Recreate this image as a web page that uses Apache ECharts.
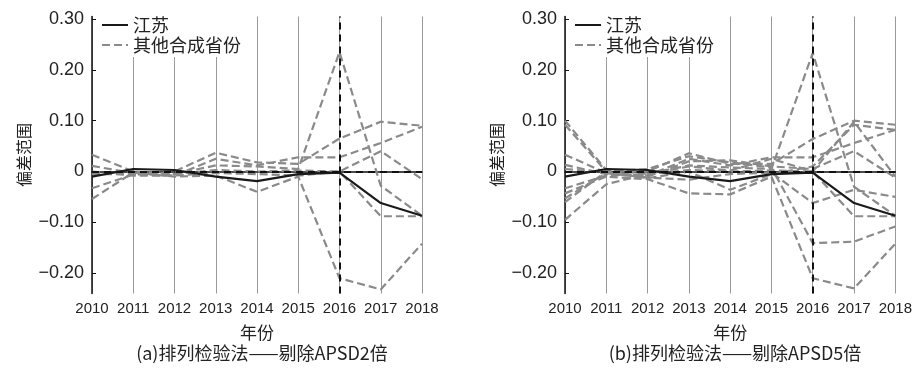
<!DOCTYPE html>
<html>
<head>
<meta charset="utf-8">
<script src="https://cdn.jsdelivr.net/npm/echarts@6/dist/echarts.min.js"></script>
<style>
  html, body { margin: 0; padding: 0; background: #fff; }
  #chart { width: 915px; height: 368px; }
</style>
</head>
<body>
<div id="chart"></div>
<script>
// Years on the horizontal axis
const years = ['2010', '2011', '2012', '2013', '2014', '2015', '2016', '2017', '2018'];

// Vertical axis ticks and their printed labels
const yTicks = [-0.2, -0.1, 0, 0.1, 0.2, 0.3];
const yTickLabels = ['\u22120.20', '\u22120.10', '0', '0.10', '0.20', '0.30'];

// Panel (a): removal at 2x APSD
const jiangsuA = [-0.010, 0.005, 0.003, -0.010, -0.019, -0.005, -0.002, -0.062, -0.087];
const otherA1 = [0.033, 0.000, -0.005, 0.012, 0.010, 0.005, 0.235, -0.028, -0.087];
const otherA2 = [0.011, -0.003, 0.000, 0.037, 0.018, 0.015, 0.065, 0.098, 0.090];
const otherA3 = [-0.005, -0.005, -0.008, 0.025, 0.012, 0.028, 0.028, 0.056, 0.088];
const otherA4 = [-0.033, -0.006, -0.005, 0.003, 0.000, 0.002, 0.000, 0.040, -0.015];
const otherA5 = [-0.054, -0.002, -0.010, -0.008, -0.040, -0.010, -0.210, -0.232, -0.142];
const otherA6 = [0.000, -0.008, -0.008, -0.003, -0.005, -0.008, 0.000, -0.088, -0.088];

// Panel (b): removal at 5x APSD
const jiangsuB = [-0.010, 0.005, 0.003, -0.010, -0.019, -0.005, -0.002, -0.062, -0.087];
const otherB1 = [0.100, 0.003, -0.005, 0.012, 0.008, 0.005, 0.233, -0.030, -0.087];
const otherB2 = [0.092, 0.000, 0.000, 0.036, 0.015, 0.015, 0.064, 0.100, 0.092];
const otherB3 = [0.033, -0.003, -0.008, 0.025, 0.012, 0.028, 0.028, 0.056, 0.082];
const otherB4 = [0.013, -0.005, -0.010, 0.020, 0.022, 0.010, 0.005, 0.040, -0.012];
const otherB5 = [-0.033, -0.008, -0.005, 0.003, 0.000, 0.002, 0.000, -0.088, -0.088];
const otherB6 = [-0.043, -0.010, -0.015, -0.043, -0.045, -0.010, -0.210, -0.230, -0.142];
const otherB7 = [-0.053, -0.003, -0.012, -0.016, -0.005, -0.002, -0.062, -0.036, -0.050];
const otherB8 = [-0.060, 0.000, 0.005, 0.030, 0.018, 0.008, -0.141, -0.138, -0.108];
const otherB9 = [-0.095, -0.025, -0.005, 0.010, 0.002, 0.025, 0.000, 0.098, -0.010];
const otherB10 = [0.005, -0.002, -0.013, 0.000, -0.036, -0.005, 0.010, 0.092, 0.082];

const panelA = { jiangsu: jiangsuA, others: [otherA1, otherA2, otherA3, otherA4, otherA5, otherA6] };
const panelB = { jiangsu: jiangsuB, others: [otherB1, otherB2, otherB3, otherB4, otherB5, otherB6, otherB7, otherB8, otherB9, otherB10] };

const NAME_JS = '江苏';
const NAME_OTHER = '其他合成省份';
const CJK = "'Noto Sans CJK SC', 'Noto Sans', sans-serif";
const LATIN = "'Liberation Sans', Arial, sans-serif";
const GREY = '#8a8a8a';
const BLACK = '#1a1a1a';

const grids = [
  { left: 92, top: 16.5, width: 330, height: 277 },
  { left: 565, top: 16.5, width: 332, height: 277 }
];

function makeXAxis(i) {
  return {
    type: 'category', gridIndex: i, data: years, boundaryGap: false,
    axisLine: { show: true, lineStyle: { color: '#111', width: 1.5 } },
    axisTick: { show: false },
    axisLabel: { interval: 0, color: '#222', fontSize: 15, fontFamily: LATIN, margin: 8 },
    splitLine: { show: true, interval: 0, lineStyle: { color: '#9a9a9a', width: 1 } },
    name: '年份', nameLocation: 'middle', nameGap: 31,
    nameTextStyle: { color: '#222', fontSize: 17, fontFamily: CJK }
  };
}

function makeYAxis(i) {
  return {
    type: 'value', gridIndex: i, min: -0.24, max: 0.305,
    axisLine: { show: true, lineStyle: { color: '#111', width: 1.5 } },
    axisTick: { show: true, inside: true, length: 4, customValues: yTicks, lineStyle: { color: '#111' } },
    axisLabel: {
      customValues: yTicks, color: '#222', fontSize: 18, margin: 8,
      fontFamily: LATIN,
      formatter: function (v) {
        const k = yTicks.findIndex(t => Math.abs(t - v) < 1e-9);
        return k >= 0 ? yTickLabels[k] : '';
      }
    },
    splitLine: { show: false },
    name: '偏差范围', nameLocation: 'middle', nameGap: 60, nameRotate: 90,
    nameTextStyle: { color: '#222', fontSize: 16, fontFamily: CJK }
  };
}

function makeSeries(panel, i) {
  const list = panel.others.map(d => ({
    type: 'line', name: NAME_OTHER, xAxisIndex: i, yAxisIndex: i, data: d,
    symbol: 'none', z: 2, silent: true,
    itemStyle: { color: GREY },
    lineStyle: { color: GREY, width: 2.2, type: [8, 4] }
  }));
  list.push({
    type: 'line', name: NAME_JS, xAxisIndex: i, yAxisIndex: i, data: panel.jiangsu,
    symbol: 'none', z: 4, silent: true,
    itemStyle: { color: BLACK },
    lineStyle: { color: BLACK, width: 2.2 },
    markLine: {
      silent: true, symbol: ['none', 'none'], label: { show: false },
      lineStyle: { color: '#111', width: 2, type: [7, 5] },
      data: [{ yAxis: 0 }, { xAxis: '2016' }]
    }
  });
  return list;
}

function makeLegend(left) {
  return {
    orient: 'vertical', left: left, top: 15,
    data: [NAME_JS, NAME_OTHER],
    itemWidth: 26, itemHeight: 12, itemGap: 2,
    itemStyle: { opacity: 0 },
    backgroundColor: '#fff', padding: [1, 6, 3, 4],
    textStyle: { color: '#222', fontSize: 18, fontFamily: CJK, lineHeight: 16 },
    selectedMode: false
  };
}

const chart = echarts.init(document.getElementById('chart'), null, { renderer: 'canvas' });
chart.setOption({
  animation: false,
  backgroundColor: '#fff',
  grid: grids,
  xAxis: [makeXAxis(0), makeXAxis(1)],
  yAxis: [makeYAxis(0), makeYAxis(1)],
  legend: [makeLegend(97), makeLegend(570)],
  series: makeSeries(panelA, 0).concat(makeSeries(panelB, 1)),
  graphic: [
    { type: 'text', x: 262, y: 353,
      style: { text: '(a)排列检验法——剔除APSD2倍', fill: '#222', font: "18px " + CJK,
               textAlign: 'center', textVerticalAlign: 'middle' } },
    { type: 'text', x: 735, y: 353,
      style: { text: '(b)排列检验法——剔除APSD5倍', fill: '#222', font: "18px " + CJK,
               textAlign: 'center', textVerticalAlign: 'middle' } }
  ]
});
</script>
</body>
</html>
